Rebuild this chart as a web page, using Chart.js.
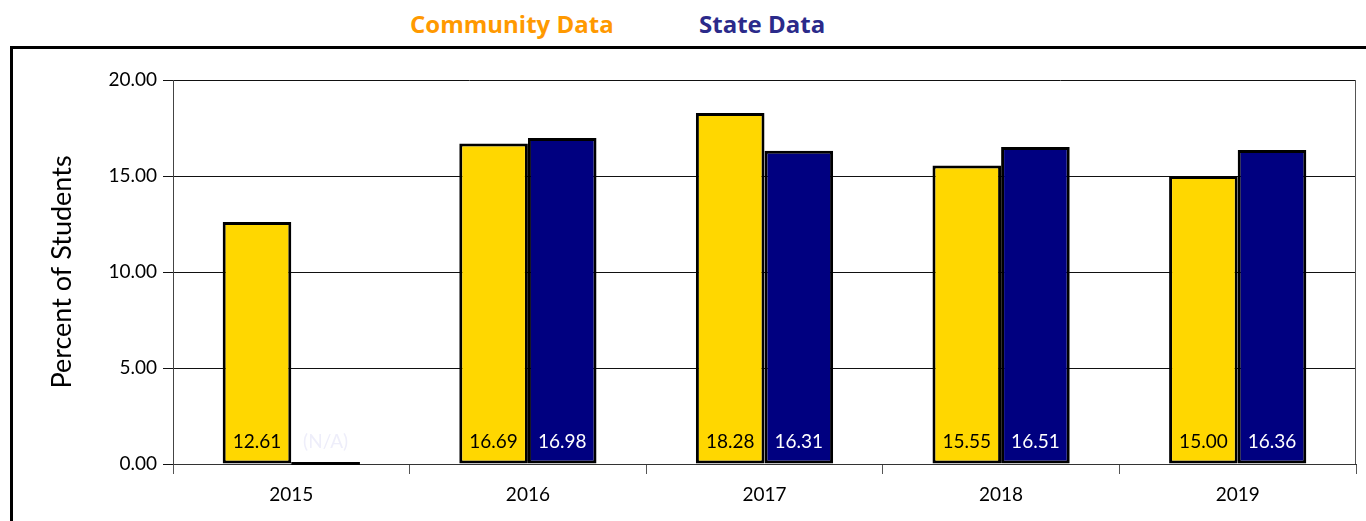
<!DOCTYPE html>
<html>
<head>
<meta charset="utf-8">
<script src="https://cdn.jsdelivr.net/npm/chart.js@4.4.1/dist/chart.umd.min.js"></script>
<style>
    html, body { margin: 0; padding: 0; background: #fff; overflow: hidden; }
    #wrap { position: relative; width: 1366px; height: 521px; }
    #frame { position: absolute; left: 10px; top: 46px; width: 1400px; height: 600px; border: 3px solid #000; box-sizing: border-box; }
    .leg { position: absolute; top: 7px; font-family: 'Open Sans', Lato, sans-serif; font-weight: bold; font-size: 24px; white-space: nowrap; }
    canvas { position: absolute; left: 0; top: 0; }
</style>
</head>
<body>
<div id="wrap">
    <div id="frame"></div>
    <span class="leg" id="leg1" style="left:410px;color:#ff9900"></span>
    <span class="leg" id="leg2" style="left:699px;color:#2b2a8a"></span>
    <canvas id="grafico" width="1366" height="521"></canvas>
</div>
<script>
const years = ['2015', '2016', '2017', '2018', '2019'];
const seriesNames = ['Community Data', 'State Data'];
const communityValues = [12.61, 16.69, 18.28, 15.55, 15.00];
const stateValues = [null, 16.98, 16.31, 16.51, 16.36]; // 2015 sin dato (N/A)
const yTicks = [0, 5, 10, 15, 20];

document.getElementById('leg1').textContent = seriesNames[0];
document.getElementById('leg2').textContent = seriesNames[1];

const fuente = 'Lato, "Open Sans", sans-serif';

// etiquetas dentro de las barras, abajo
const etiquetas = {
    id: 'etiquetas',
    afterDatasetsDraw(chart) {
        const ctx = chart.ctx;
        const area = chart.chartArea;
        ctx.save();
        ctx.font = '19px ' + fuente;
        ctx.textAlign = 'center';
        ctx.textBaseline = 'middle';
        chart.data.datasets.forEach((ds, i) => {
            chart.getDatasetMeta(i).data.forEach((bar, j) => {
                const v = ds.raw[j];
                let txt, col;
                if (v === null) {
                    // barra vacia: solo la linea en cero
                    ctx.fillStyle = '#000';
                    ctx.fillRect(bar.x - bar.width / 2, bar.base - 2, bar.width, 3);
                    txt = '(N/A)';
                    col = '#eeeefa';
                } else {
                    txt = v.toFixed(2);
                    col = i === 0 ? '#000' : '#fff';
                }
                ctx.fillStyle = col;
                ctx.fillText(txt, bar.x, area.bottom - 22);
            });
        });
        ctx.restore();
    }
};

// borde derecho del area de trazado
const bordeDerecho = {
    id: 'bordeDerecho',
    beforeDatasetsDraw(chart) {
        const ctx = chart.ctx;
        const a = chart.chartArea;
        ctx.save();
        ctx.strokeStyle = '#555';
        ctx.lineWidth = 1;
        ctx.beginPath();
        ctx.moveTo(a.right - 0.5, a.top);
        ctx.lineTo(a.right - 0.5, a.bottom);
        ctx.stroke();
        ctx.restore();
    }
};

const ctx = document.getElementById('grafico').getContext('2d');
new Chart(ctx, {
    type: 'bar',
    data: {
        labels: years,
        datasets: [
            {
                label: seriesNames[0],
                data: communityValues,
                raw: communityValues,
                backgroundColor: '#ffd700',
                borderColor: '#000',
                borderWidth: 3,
                borderSkipped: false
            },
            {
                label: seriesNames[1],
                data: stateValues.map(v => v === null ? 0 : v),
                raw: stateValues,
                backgroundColor: '#000080',
                borderColor: '#000',
                borderWidth: 3,
                borderSkipped: false
            }
        ]
    },
    options: {
        responsive: false,
        animation: false,
        layout: { padding: { top: 80, right: 10, left: 0, bottom: 0 } },
        datasets: { bar: { categoryPercentage: 0.58, barPercentage: 1 } },
        scales: {
            x: {
                afterFit: s => { s.height = 57; },
                grid: { display: true, drawOnChartArea: false, offset: true, tickLength: 10, color: '#555' },
                border: { color: '#333' },
                ticks: { color: '#000', font: { family: fuente, size: 19 }, padding: 9 }
            },
            y: {
                min: 0,
                max: 20,
                afterFit: s => { s.width = 173; },
                afterBuildTicks: s => { s.ticks = yTicks.map(v => ({ value: v })); },
                grid: { color: '#111', tickLength: 10 },
                border: { color: '#444' },
                ticks: {
                    color: '#000',
                    font: { family: fuente, size: 19 },
                    padding: 6,
                    callback: v => v.toFixed(2)
                },
                title: {
                    display: true,
                    text: 'Percent of Students',
                    color: '#000',
                    font: { family: fuente, size: 27 },
                    padding: { top: 46 }
                }
            }
        },
        plugins: {
            legend: { display: false },
            tooltip: { enabled: false }
        }
    },
    plugins: [etiquetas, bordeDerecho]
});
</script>
</body>
</html>
